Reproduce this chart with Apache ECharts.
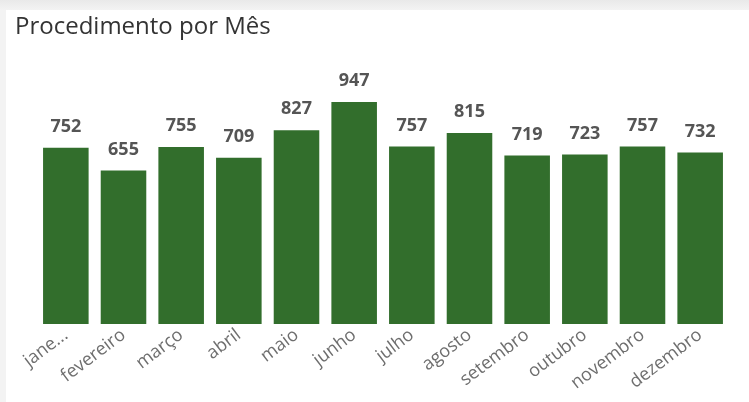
<!DOCTYPE html>
<html>
<head>
<meta charset="utf-8">
<script src="https://cdn.jsdelivr.net/npm/echarts@6/dist/echarts.min.js"></script>
<style>
html,body{margin:0;padding:0;width:749px;height:402px;overflow:hidden;background:linear-gradient(#e9e9e9,#f3f3f3 10px);}
#bg{position:absolute;left:6px;top:10px;right:0;bottom:0;background:#fff;}
#chart{position:absolute;left:0;top:0;width:749px;height:402px;}
</style>
</head>
<body>
<div id="bg"></div>
<div id="chart"></div>
<script>
const categories = ['janeiro','fevereiro','março','abril','maio','junho','julho','agosto','setembro','outubro','novembro','dezembro'];
const values = [752,655,755,709,827,947,757,815,719,723,757,732];
const titleText = 'Procedimento por Mês';

const chart = echarts.init(document.getElementById('chart'), null, {renderer:'canvas'});
chart.setOption({
  backgroundColor: 'transparent',
  animation: false,
  title: {
    text: titleText, left: 10, top: 10,
    textStyle: {fontFamily: 'Open Sans', fontSize: 24, fontWeight: 'normal', color: '#333'}
  },
  grid: {left: 37, right: 20, top: 89.6, bottom: 78},
  xAxis: {
    type: 'category', data: categories,
    axisLine: {show: false}, axisTick: {show: false},
    axisLabel: {
      rotate: 37, margin: 9, color: '#6e6e6e', fontFamily: 'Open Sans', fontSize: 18, interval: 0,
      formatter: (v, i) => i === 0 ? v.slice(0, 4) + '...' : v
    }
  },
  yAxis: {type: 'value', min: 0, max: 1000, show: false, splitLine: {show: false}},
  series: [{
    type: 'bar', data: values, barCategoryGap: '21%',
    itemStyle: {color: '#326e2c'},
    label: {
      show: true, position: 'top', distance: 12,
      color: '#555', fontFamily: 'Open Sans', fontWeight: 'bold', fontSize: 18
    }
  }]
});
</script>
</body>
</html>
